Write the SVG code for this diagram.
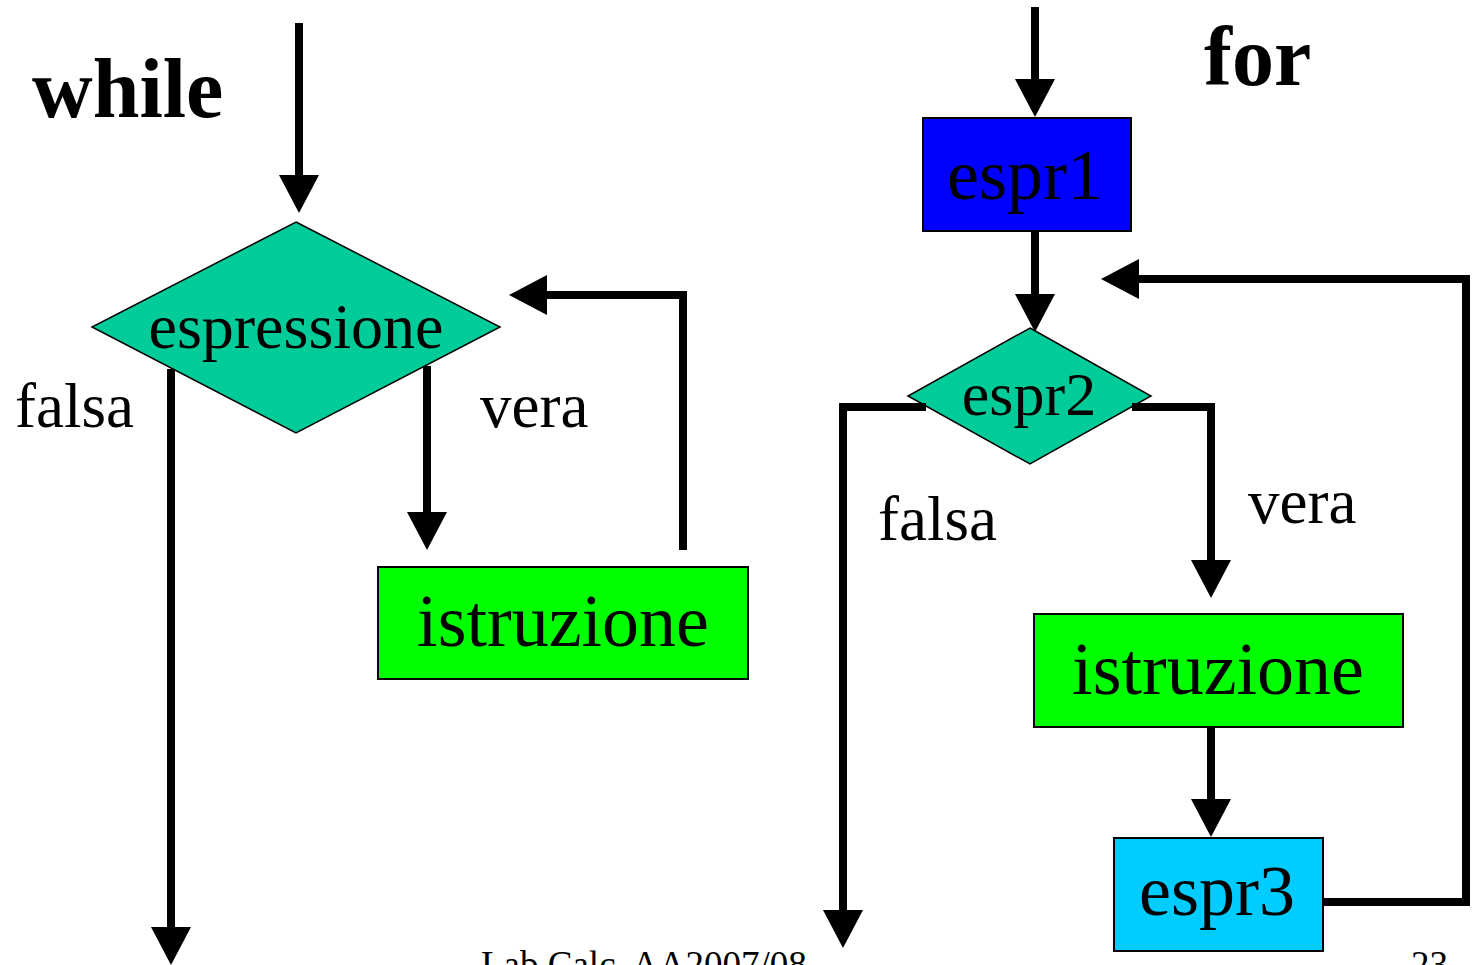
<svg xmlns="http://www.w3.org/2000/svg" width="1474" height="965" viewBox="0 0 1474 965">
<style>
text{font-family:"Liberation Serif","Times New Roman",serif;fill:#000}
.title{font-weight:bold;font-size:84px}
.lbl{font-size:63px}
.node{stroke:#000;stroke-width:2}
.dia{fill:#00CC99;stroke:#000;stroke-width:1.5}
.conn{fill:none;stroke:#000;stroke-width:8;stroke-linejoin:miter;stroke-linecap:butt}
.foot{font-size:37px}
</style>
<defs>
<marker id="ah" markerUnits="userSpaceOnUse" markerWidth="38" markerHeight="40" viewBox="0 0 38 40" refX="0" refY="20" orient="auto">
<path d="M0,0 L38,20 L0,40 z" fill="#000"/>
</marker>
</defs>
<rect width="1474" height="965" fill="#fff"/>
<text class="title" x="32" y="117">while</text>
<text class="title" x="1204" y="85">for</text>
<g id="w_cond">
<polygon class="dia" points="296,222 500,327 296,433 92,327"/>
<text x="296" y="348" font-size="64" text-anchor="middle">espressione</text>
</g>
<g id="w_istr">
<rect class="node" x="378" y="567" width="370" height="112" fill="#00FF00"/>
<text x="563" y="646" font-size="74" text-anchor="middle">istruzione</text>
</g>
<g id="f_espr1">
<rect class="node" x="923" y="118" width="208" height="113" fill="#0000FF"/>
<text x="1025" y="199" font-size="72" text-anchor="middle">espr1</text>
</g>
<g id="f_espr2">
<polygon class="dia" points="1030,328 1151,396 1030,464 908,396"/>
<text x="1029" y="415" font-size="62" text-anchor="middle">espr2</text>
</g>
<g id="f_istr">
<rect class="node" x="1034" y="614" width="369" height="113" fill="#00FF00"/>
<text x="1218" y="694" font-size="74" text-anchor="middle">istruzione</text>
</g>
<g id="f_espr3">
<rect class="node" x="1114" y="838" width="209" height="113" fill="#00CCFF"/>
<text x="1217" y="915" font-size="72" text-anchor="middle">espr3</text>
</g>
<g id="connectors">
<path class="conn" d="M299,23 V175" marker-end="url(#ah)"/>
<path class="conn" d="M171,369 V927" marker-end="url(#ah)"/>
<path class="conn" d="M427,366 V512" marker-end="url(#ah)"/>
<path class="conn" d="M683,550 V295 H547" marker-end="url(#ah)"/>
<path class="conn" d="M1035,7 V79" marker-end="url(#ah)"/>
<path class="conn" d="M1035,231 V294" marker-end="url(#ah)"/>
<path class="conn" d="M926,407 H843 V910" marker-end="url(#ah)"/>
<path class="conn" d="M1132,407 H1211 V560" marker-end="url(#ah)"/>
<path class="conn" d="M1211,727 V799" marker-end="url(#ah)"/>
<path class="conn" d="M1323,902 H1466 V279 H1139" marker-end="url(#ah)"/>
</g>
<g id="labels">
<text class="lbl" x="15" y="427">falsa</text>
<text class="lbl" x="480" y="427">vera</text>
<text class="lbl" x="878" y="540">falsa</text>
<text class="lbl" x="1248" y="523">vera</text>
</g>
<text class="foot" x="481" y="977">Lab.Calc. AA2007/08</text>
<text class="foot" x="1411" y="977">23</text>
</svg>
